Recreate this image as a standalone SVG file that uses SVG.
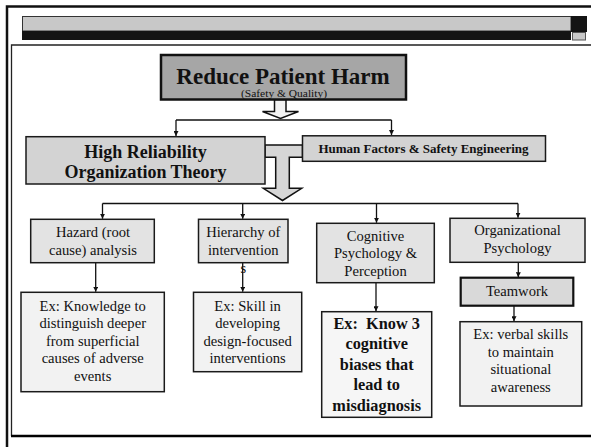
<svg xmlns="http://www.w3.org/2000/svg" width="591" height="447" viewBox="0 0 591 447">
<defs>
<style>
.t{font-family:"Liberation Serif","Times New Roman",serif;fill:#111;text-anchor:middle}
.n{font-size:14.6px;font-weight:normal}
.b{font-weight:bold}
.box{stroke:#1a1a1a;stroke-width:1.5}
.lvl2{fill:#e3e3e3}
.ex{fill:#f2f2f2}
.mid{fill:#d3d3d3}
.con{fill:none;stroke:#111;stroke-width:1.3}
.hollow{stroke:#111;stroke-width:1.5;stroke-linejoin:miter}
</style>
<marker id="ah" viewBox="0 0 8 8" markerWidth="5" markerHeight="5" refX="8" refY="4" orient="auto" markerUnits="userSpaceOnUse">
<path d="M0,0 L8,4 L0,8 z" fill="#111"/>
</marker>
</defs>
<rect width="591" height="447" fill="#fff"/>
<g id="frame">
<path d="M7,447 V6.5 H591" fill="none" stroke="#111" stroke-width="2.5"/>
<path d="M11.5,436 V45 H591" fill="none" stroke="#222" stroke-width="1.3"/>
<path d="M11,436 H591" fill="none" stroke="#000" stroke-width="2.5"/>
<rect x="22.5" y="16.5" width="548.5" height="14.5" fill="#c8c8c8" stroke="#333" stroke-width="1"/>
<rect x="22" y="31" width="549" height="9" fill="#141414"/>
<rect x="571" y="16" width="16" height="16" fill="#141414"/>
<rect x="572.5" y="32.5" width="13" height="7.5" fill="#c8c8c8" stroke="#555" stroke-width="1"/>
</g>
<g id="connectors">
<path class="hollow" d="M274.5,99.5 V111.5 H262.5 L280.5,118.5 L298.5,111.5 H286 V99.5 Z" fill="#f2f2f2"/>
<path class="hollow" d="M265,145 H302.5 V157.3 H289.3 V188.3 H301.7 L282.5,200.5 L263.3,188.3 H275.7 V157.3 H265 Z" fill="#d6d6d6"/>
<path class="con" d="M176,120 H391.5"/>
<path class="con" d="M176,120 V136" marker-end="url(#ah)"/>
<path class="con" d="M391.5,120 V135" marker-end="url(#ah)"/>
<path class="con" d="M102.5,203.5 H518"/>
<path class="con" d="M102.5,203.5 V218.8" marker-end="url(#ah)"/>
<path class="con" d="M242.7,203.5 V218.8" marker-end="url(#ah)"/>
<path class="con" d="M376.5,203.5 V222.8" marker-end="url(#ah)"/>
<path class="con" d="M518,203.5 V217.8" marker-end="url(#ah)"/>
<path class="con" d="M95.7,262.7 V291.8" marker-end="url(#ah)"/>
<path class="con" d="M242.7,262.7 V291.8" marker-end="url(#ah)"/>
<path class="con" d="M376,282.7 V311.2" marker-end="url(#ah)"/>
<path class="con" d="M518.3,262.3 V277.2" marker-end="url(#ah)"/>
<path class="con" d="M514,305.7 V321.2" marker-end="url(#ah)"/>
</g>
<g id="reduce">
<rect x="161" y="55" width="245" height="44.5" fill="#a6a6a6" stroke="#111" stroke-width="2.5"/>
<text class="t b" x="283" y="83.5" font-size="23">Reduce Patient Harm</text>
<text class="t" x="284" y="97.3" font-size="9.5" textLength="86" lengthAdjust="spacingAndGlyphs">(Safety &amp; Quality)</text>
</g>
<g id="hro">
<rect class="box mid" x="26" y="136.7" width="239" height="47.3"/>
<text class="t b" x="145.5" y="158.3" font-size="18">High Reliability</text>
<text class="t b" x="145.5" y="178.3" font-size="18">Organization Theory</text>
</g>
<g id="human-factors">
<rect class="box mid" x="302.5" y="135.8" width="243" height="25.5"/>
<text class="t b" x="423.5" y="153.3" font-size="13">Human Factors &amp; Safety Engineering</text>
</g>
<g id="hazard">
<rect class="box lvl2" x="30.7" y="219.3" width="123.6" height="43.4"/>
<text class="t n" x="93" y="236.7">Hazard (root</text>
<text class="t n" x="93" y="255">cause) analysis</text>
</g>
<g id="hierarchy">
<rect class="box lvl2" x="198.5" y="219.3" width="89.5" height="43.4"/>
<text class="t n" x="243.3" y="236.7">Hierarchy of</text>
<text class="t n" x="243.3" y="255">intervention</text>
<text class="t n" x="243.3" y="273.3">s</text>
</g>
<g id="cognitive">
<rect class="box lvl2" x="316.7" y="223.3" width="117.6" height="59.4"/>
<text class="t n" x="375.5" y="240.7">Cognitive</text>
<text class="t n" x="375.5" y="258.3">Psychology &amp;</text>
<text class="t n" x="375.5" y="276">Perception</text>
</g>
<g id="organizational">
<rect class="box lvl2" x="450" y="218.3" width="135" height="44"/>
<text class="t n" x="517.5" y="235">Organizational</text>
<text class="t n" x="517.5" y="253.3">Psychology</text>
</g>
<g id="teamwork">
<rect x="460.7" y="277.7" width="112.6" height="28" fill="#d9d9d9" stroke="#111" stroke-width="2.2"/>
<text class="t n" x="517" y="296">Teamwork</text>
</g>
<g id="ex-hazard">
<rect class="box ex" x="21" y="292.3" width="143.3" height="99.4"/>
<text class="t n" x="92.7" y="311">Ex: Knowledge to</text>
<text class="t n" x="92.7" y="328.4">distinguish deeper</text>
<text class="t n" x="92.7" y="345.8">from superficial</text>
<text class="t n" x="92.7" y="363.2">causes of adverse</text>
<text class="t n" x="92.7" y="380.6">events</text>
</g>
<g id="ex-hierarchy">
<rect class="box ex" x="193.5" y="292.3" width="108.2" height="79.4"/>
<text class="t n" x="247.6" y="311">Ex: Skill in</text>
<text class="t n" x="247.6" y="328.4">developing</text>
<text class="t n" x="247.6" y="345.8">design-focused</text>
<text class="t n" x="247.6" y="363.2">interventions</text>
</g>
<g id="ex-cognitive">
<rect class="box" x="321.7" y="311.7" width="110" height="105.6" fill="#f6f6f6"/>
<text class="t b" x="376.7" y="328.5" font-size="16.3" style="white-space:pre">Ex:  Know 3</text>
<text class="t b" x="376.7" y="349" font-size="16.3">cognitive</text>
<text class="t b" x="376.7" y="369.5" font-size="16.3">biases that</text>
<text class="t b" x="376.7" y="390" font-size="16.3">lead to</text>
<text class="t b" x="376.7" y="410.5" font-size="16.3">misdiagnosis</text>
</g>
<g id="ex-organizational">
<rect class="box ex" x="460" y="321.7" width="121.7" height="84.3"/>
<text class="t n" x="520.8" y="339.3">Ex: verbal skills</text>
<text class="t n" x="520.8" y="356.7">to maintain</text>
<text class="t n" x="520.8" y="374.1">situational</text>
<text class="t n" x="520.8" y="391.5">awareness</text>
</g>
</svg>
